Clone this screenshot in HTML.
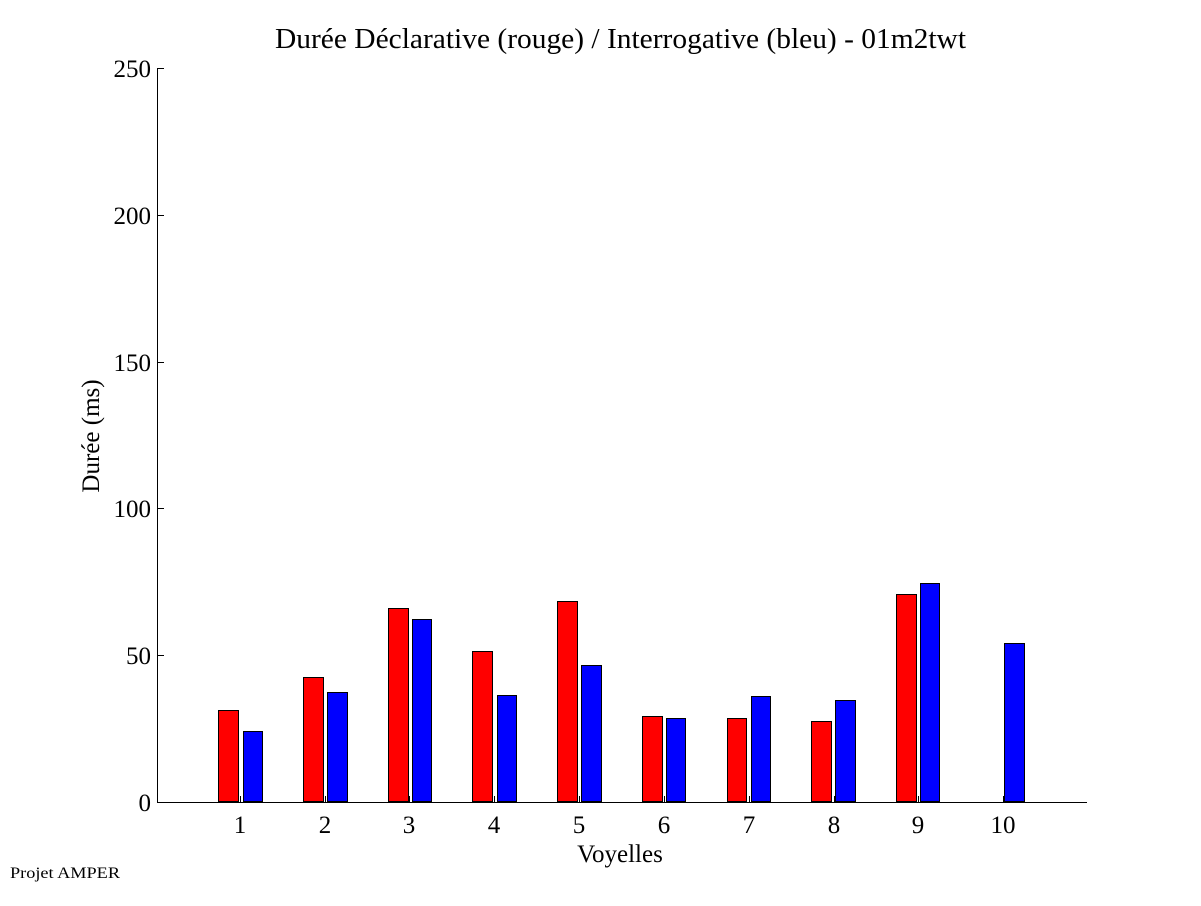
<!DOCTYPE html>
<html><head><meta charset="utf-8"><style>body{margin:0;background:#fff}</style></head><body>
<svg width="1201" height="901" xmlns="http://www.w3.org/2000/svg" font-family="Liberation Serif, serif">
<rect width="1201" height="901" fill="#fff"/>
<text x="275" y="48" font-size="28" textLength="691" lengthAdjust="spacingAndGlyphs">Durée Déclarative (rouge) / Interrogative (bleu) - 01m2twt</text>
<g stroke="#000" stroke-width="1">
<rect x="218.5" y="710.5" width="20" height="91" fill="#f00"/><rect x="243.5" y="731.5" width="19" height="70" fill="#00f"/>
<rect x="303.5" y="677.5" width="20" height="124" fill="#f00"/><rect x="327.5" y="692.5" width="20" height="109" fill="#00f"/>
<rect x="388.5" y="608.5" width="20" height="193" fill="#f00"/><rect x="412.5" y="619.5" width="19" height="182" fill="#00f"/>
<rect x="472.5" y="651.5" width="20" height="150" fill="#f00"/><rect x="497.5" y="695.5" width="19" height="106" fill="#00f"/>
<rect x="557.5" y="601.5" width="20" height="200" fill="#f00"/><rect x="581.5" y="665.5" width="20" height="136" fill="#00f"/>
<rect x="642.5" y="716.5" width="20" height="85" fill="#f00"/><rect x="666.5" y="718.5" width="19" height="83" fill="#00f"/>
<rect x="727.5" y="718.5" width="19" height="83" fill="#f00"/><rect x="751.5" y="696.5" width="19" height="105" fill="#00f"/>
<rect x="811.5" y="721.5" width="20" height="80" fill="#f00"/><rect x="835.5" y="700.5" width="20" height="101" fill="#00f"/>
<rect x="896.5" y="594.5" width="20" height="207" fill="#f00"/><rect x="920.5" y="583.5" width="19" height="218" fill="#00f"/>
<rect x="1004.5" y="643.5" width="20" height="158" fill="#00f"/>
<path d="M157.5 68V802.5H1087M157 68.5h7M157 215.5h7M157 362.5h7M157 508.5h7M157 655.5h7M240.5 802v-6M325.5 802v-6M409.5 802v-6M494.5 802v-6M579.5 802v-6M664.5 802v-6M749.5 802v-6M834.5 802v-6M918.5 802v-6M1003.5 802v-6" fill="none"/>
</g>
<g font-size="25" text-anchor="end">
<text x="151" y="811">0</text><text x="151" y="664">50</text><text x="151" y="517">100</text><text x="151" y="371">150</text><text x="151" y="224">200</text><text x="151" y="77">250</text>
</g>
<g font-size="25" text-anchor="middle">
<text x="240" y="833">1</text><text x="325" y="833">2</text><text x="409" y="833">3</text><text x="494" y="833">4</text><text x="579" y="833">5</text><text x="664" y="833">6</text><text x="749" y="833">7</text><text x="834" y="833">8</text><text x="918" y="833">9</text><text x="1003" y="833">10</text>
<text x="620" y="862">Voyelles</text>
<text transform="translate(99 436) rotate(-90)">Durée (ms)</text>
</g>
<text x="10" y="878" font-size="16" textLength="110" lengthAdjust="spacingAndGlyphs">Projet AMPER</text>
</svg>
</body></html>
